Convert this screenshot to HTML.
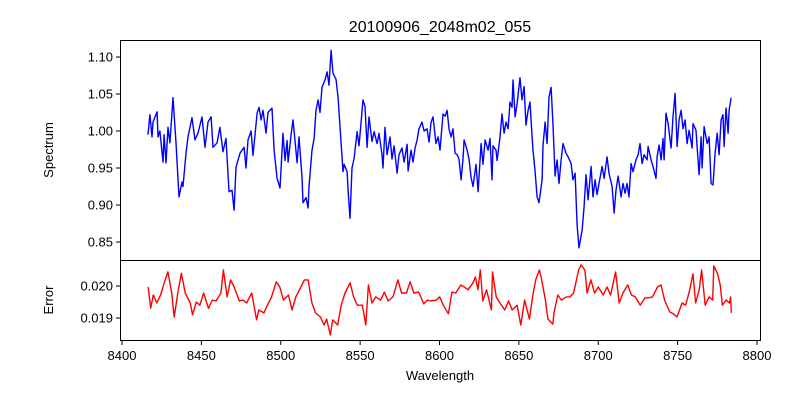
<!DOCTYPE html>
<html><head><meta charset="utf-8"><style>
body{margin:0;background:#fff}
svg{display:block;font-family:"Liberation Sans","DejaVu Sans",sans-serif}
</style></head><body>
<svg id="chart" width="800" height="400" viewBox="0 0 800 400" xmlns="http://www.w3.org/2000/svg">
<rect width="800" height="400" fill="#fff"/>
<text x="440" y="32" font-size="16" text-anchor="middle">20100906_2048m02_055</text>
<g id="topg"></g><g id="botg"></g><g id="xaxg"></g>
<text transform="translate(53,150) rotate(-90)" font-size="13" text-anchor="middle">Spectrum</text>
<text transform="translate(53,300) rotate(-90)" font-size="13" text-anchor="middle">Error</text>
<text x="440" y="380" font-size="13" text-anchor="middle">Wavelength</text>
</svg>
<script>
const specWl=[16.4,17.6,18.9,19.5,22.1,22.7,23.9,25.8,26.5,27.7,29.0,30.2,32.1,34.0,35.9,37.8,38.4,40.3,41.6,44.1,46.0,47.9,50.4,52.3,54.2,56.1,57.3,59.9,61.7,63.6,65.5,67.4,69.3,70.6,71.8,74.3,76.9,78.1,79.4,81.3,82.5,85.1,86.3,87.6,88.8,90.7,92.0,94.5,95.8,97.7,99.5,101.4,102.7,104.0,104.6,106.5,107.7,110.3,111.5,113.4,114.0,115.9,117.2,117.8,119.7,121.0,122.2,123.5,124.7,126.0,127.9,129.2,130.4,131.7,132.9,134.8,136.1,136.7,138.0,139.2,139.9,141.8,142.4,143.6,144.9,146.2,148.1,149.3,150.6,151.8,153.1,154.4,155.6,157.5,158.8,160.7,161.9,163.8,164.4,165.7,167.0,168.8,170.1,171.4,173.3,174.5,176.4,177.7,179.6,180.2,182.1,183.3,184.6,185.9,187.1,189.0,190.3,192.2,193.4,194.7,195.9,197.8,199.1,200.3,202.2,203.5,204.8,206.0,207.3,208.5,209.8,211.1,212.3,213.6,214.8,215.5,217.4,218.6,219.9,221.1,223.0,224.3,226.2,227.4,228.7,230.6,231.8,233.1,233.7,235.6,236.3,238.1,239.4,240.7,241.9,243.2,244.4,245.7,246.3,247.6,248.9,250.7,252.0,253.3,254.5,255.8,257.0,258.3,258.9,260.2,261.5,262.7,264.6,265.2,266.5,267.8,269.0,270.3,271.5,272.8,274.1,275.3,276.6,277.8,279.7,281.0,282.9,284.1,285.4,286.7,287.9,289.8,291.1,292.3,293.6,295.5,296.7,298.0,299.3,300.5,302.4,303.7,305.6,306.8,308.7,310.0,311.2,312.5,314.4,315.6,316.9,318.2,319.4,320.7,321.9,323.8,325.1,326.3,327.6,328.9,330.8,331.4,333.3,334.5,336.4,337.1,338.3,339.6,340.8,341.5,342.7,344.0,345.9,347.1,348.4,349.7,350.9,352.2,353.4,354.7,356.0,357.2,359.1,359.7,361.6,362.3,363.5,364.8,365.4,366.7,368.6,369.8,371.1,372.3,373.6,374.9,376.1,377.4,378.6,379.3,380.5,381.8,382.4,383.7];
const specVal=[0.995,1.022,0.992,1.012,1.026,0.992,1.0,0.958,0.995,0.957,1.005,0.984,1.045,0.984,0.911,0.931,0.925,0.970,0.992,1.018,0.988,0.997,1.019,0.978,1.012,1.019,0.978,0.984,1.005,0.972,0.99,0.918,0.92,0.893,0.951,0.97,0.978,0.95,0.988,1.0,0.967,1.024,1.032,1.015,1.028,0.997,1.025,1.031,0.974,0.936,0.923,0.997,0.96,0.987,0.958,0.995,1.015,0.957,0.992,0.938,0.903,0.91,0.896,0.925,0.974,0.99,1.028,1.042,1.025,1.059,1.069,1.08,1.062,1.109,1.078,1.07,1.045,1.026,0.984,0.945,0.955,0.945,0.92,0.882,0.95,0.963,0.999,0.98,1.012,1.042,1.033,0.978,1.019,0.986,0.999,0.983,0.997,0.968,0.95,1.005,0.968,0.992,0.962,0.98,0.943,0.968,0.977,0.958,0.982,0.946,0.974,0.958,0.977,0.988,1.003,1.012,1.0,1.003,0.985,1.012,1.019,0.983,0.992,0.974,1.023,1.02,1.028,1.003,0.992,1.003,0.97,0.968,0.962,0.934,0.962,0.988,0.974,0.962,0.937,0.925,0.955,0.918,0.983,0.955,0.988,0.974,0.99,0.934,0.98,0.974,0.96,0.992,1.023,0.997,1.012,1.003,1.039,1.032,1.069,1.019,1.037,1.072,1.042,1.06,1.008,1.028,1.039,0.992,0.974,0.945,0.911,0.903,0.934,0.98,1.012,0.983,1.046,1.059,1.008,0.939,0.961,0.929,0.961,0.983,0.97,0.965,0.956,0.934,0.943,0.873,0.842,0.866,0.898,0.941,0.907,0.952,0.911,0.934,0.914,0.929,0.952,0.936,0.965,0.943,0.925,0.889,0.92,0.939,0.911,0.929,0.916,0.929,0.911,0.956,0.945,0.961,0.968,0.983,0.956,0.968,0.961,0.979,0.961,0.952,0.936,0.965,0.981,0.961,0.99,0.961,1.024,1.01,0.977,1.019,1.051,0.979,1.015,1.028,1.003,1.015,0.983,1.001,0.977,1.01,1.001,0.977,0.941,0.992,0.95,1.006,0.983,0.992,0.929,0.927,0.97,0.997,0.968,1.015,1.022,0.979,1.031,0.997,1.028,1.045];
const errWl=[16.5,18.1,19.7,21.9,24.3,26.6,28.9,31.3,32.9,35.2,37.4,39.8,43.0,44.4,46.8,49.1,51.4,54.5,56.8,59.2,62.3,63.9,66.2,68.4,70.7,73.9,76.2,78.5,81.7,84.8,86.2,89.4,91.6,94.0,97.2,99.4,101.7,104.9,107.1,109.5,112.7,114.9,117.2,119.6,121.9,125.0,127.3,128.9,131.2,132.7,135.9,138.1,140.5,143.7,145.9,148.2,151.4,153.6,155.2,157.5,159.9,162.9,165.3,167.6,170.7,173.8,176.1,179.2,181.5,183.9,186.9,190.1,192.3,194.7,197.9,200.1,202.4,205.6,207.8,210.2,213.4,215.6,217.9,221.1,222.6,224.2,225.7,227.3,229.6,232.7,233.4,235.7,238.1,241.1,243.5,245.8,248.9,251.2,253.6,256.6,259.0,260.6,262.9,264.4,266.7,268.3,271.4,272.1,274.5,276.8,279.9,282.2,284.5,287.6,289.2,291.6,293.0,295.4,297.7,300.0,303.1,305.5,307.8,310.9,313.2,315.5,318.6,320.9,323.3,326.4,329.5,331.8,334.1,337.3,339.5,341.8,345.0,347.3,349.6,352.8,355.0,357.3,359.7,361.3,363.6,365.1,367.4,369.8,372.1,372.8,375.2,376.8,378.2,380.6,382.6,383.4,383.8];
const errVal=[0.01997,0.01931,0.01972,0.01947,0.01972,0.0201,0.02044,0.01978,0.01903,0.0198,0.0204,0.01978,0.01947,0.0191,0.0195,0.0194,0.01978,0.0193,0.01956,0.01953,0.01978,0.0205,0.01966,0.02019,0.01997,0.01953,0.01956,0.01947,0.01978,0.01894,0.01925,0.01916,0.0194,0.01963,0.02013,0.01997,0.01956,0.01972,0.01925,0.01966,0.01997,0.02019,0.02019,0.01947,0.01916,0.01903,0.01878,0.01897,0.01847,0.01894,0.01878,0.0194,0.01978,0.0201,0.01966,0.0194,0.0194,0.01878,0.02003,0.01947,0.01966,0.01956,0.01981,0.01953,0.01966,0.02019,0.01978,0.01978,0.02013,0.01978,0.01981,0.01944,0.01956,0.01953,0.01956,0.01966,0.0194,0.01913,0.01981,0.01978,0.02003,0.01997,0.01988,0.0201,0.02028,0.01988,0.0205,0.01953,0.01988,0.01925,0.02044,0.01966,0.01947,0.01925,0.01953,0.01925,0.0194,0.01878,0.01956,0.01897,0.01978,0.02019,0.0205,0.02019,0.01956,0.01897,0.01881,0.01916,0.01972,0.01956,0.01966,0.01966,0.01978,0.0205,0.02066,0.0205,0.01978,0.02019,0.01978,0.01997,0.01972,0.01997,0.01972,0.02044,0.01947,0.01978,0.02003,0.01972,0.01966,0.0194,0.01963,0.01963,0.01966,0.01997,0.02003,0.01956,0.01919,0.01913,0.01903,0.01947,0.0194,0.01981,0.02038,0.01947,0.01988,0.0205,0.0194,0.01966,0.01956,0.02063,0.02038,0.02003,0.0194,0.01956,0.01947,0.01966,0.01916];
const xTicks=[8400,8450,8500,8550,8600,8650,8700,8750,8800];
const specTicks=[0.85,0.90,0.95,1.00,1.05,1.10];
const errTicks=[0.019,0.020];
const WL0=8400;
const SVGNS='http://www.w3.org/2000/svg';
const X=w=>122+(w-8400)*1.5875;
const YS=v=>131-(v-1)*740;
const YE=v=>286-(v-0.020)*32000;
function mk(tag,attrs,parent){const e=document.createElementNS(SVGNS,tag);for(const k in attrs)e.setAttribute(k,attrs[k]);parent.appendChild(e);return e;}
const gTop=document.getElementById('topg'),gBot=document.getElementById('botg'),gX=document.getElementById('xaxg');
function pathFor(wls,vals,yf){let s='';const n=Math.min(wls.length,vals.length);for(let i=0;i<n;i++){s+=(i?'L':'M')+X(WL0+wls[i]).toFixed(1)+' '+yf(vals[i]).toFixed(1);}return s;}
const sp=mk('path',{d:pathFor(specWl,specVal,YS),fill:'none',stroke:'#0000ff','stroke-width':1.4,'stroke-linejoin':'round'},gTop);


const ep=mk('path',{d:pathFor(errWl,errVal,YE),fill:'none',stroke:'#ff0000','stroke-width':1.4,'stroke-linejoin':'round'},gBot);


const f1=mk('rect',{x:120.5,y:40.5,width:640,height:220,fill:'none',stroke:'#000','stroke-width':1},gTop);


const f2=mk('rect',{x:120.5,y:260.5,width:640,height:80,fill:'none',stroke:'#000','stroke-width':1},gBot);


specTicks.forEach(v=>{const y=YS(v);mk('line',{x1:116,x2:120.5,y1:y,y2:y,stroke:'#000'},gTop);
const t=mk('text',{x:113,y:y+4.5,'font-size':13,'text-anchor':'end'},gTop);t.textContent=v.toFixed(2);

});
errTicks.forEach(v=>{const y=YE(v);mk('line',{x1:116,x2:120.5,y1:y,y2:y,stroke:'#000'},gBot);
const t=mk('text',{x:113,y:y+4.5,'font-size':13,'text-anchor':'end'},gBot);t.textContent=v.toFixed(3);

});
xTicks.forEach(v=>{const x=X(v);mk('line',{x1:x,x2:x,y1:340.5,y2:345,stroke:'#000'},gX);
const t=mk('text',{x:x,y:360,'font-size':13,'text-anchor':'middle'},gX);t.textContent=v;

});
</script>
</body></html>
